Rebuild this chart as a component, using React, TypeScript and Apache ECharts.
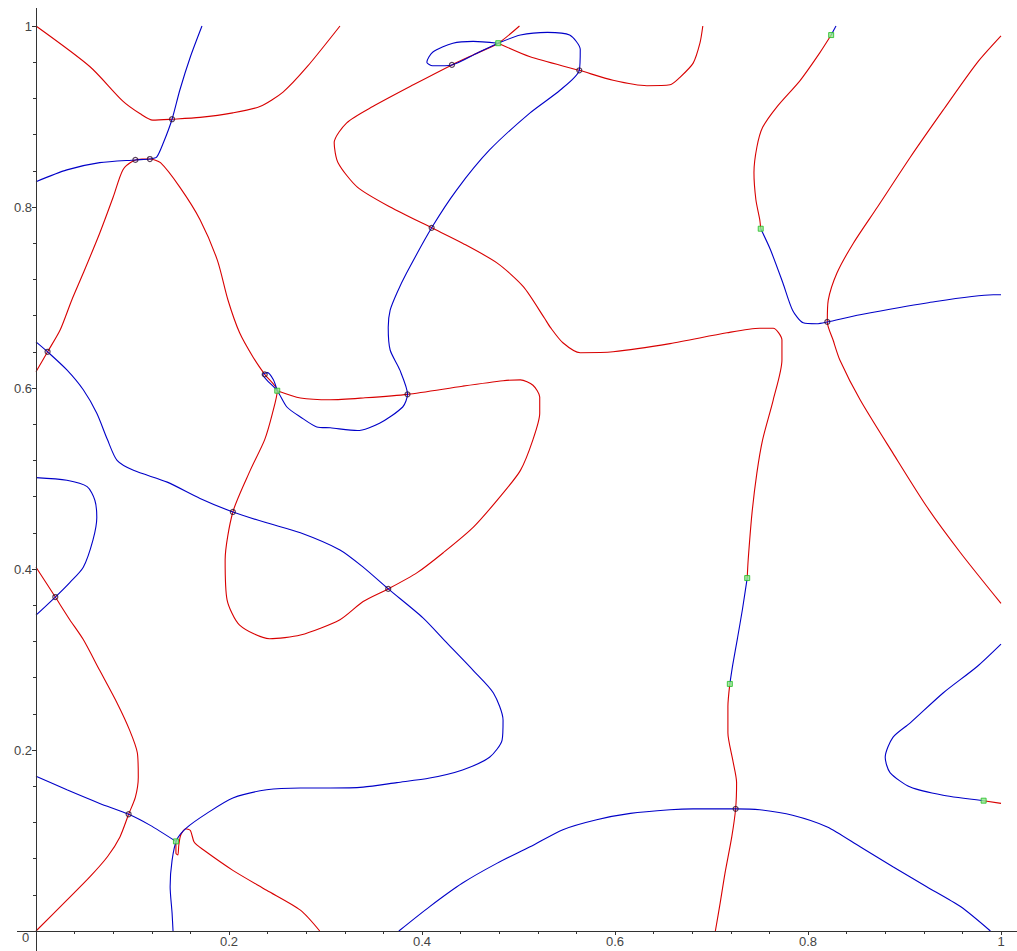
import React, { useEffect, useRef } from "react";
import * as echarts from "echarts";

// ---------- data (x, y in axis units) ----------
const xTicks = [0.2, 0.4, 0.6, 0.8, 1];
const yTicks = [0.2, 0.4, 0.6, 0.8, 1];

const red1 = [[0, 1.0], [0.056, 0.955], [0.09, 0.917], [0.108, 0.903], [0.121, 0.896], [0.141, 0.897], [0.17, 0.899], [0.204, 0.904], [0.232, 0.911], [0.256, 0.927], [0.281, 0.955], [0.315, 1.0]];

const red2 = [[0, 0.618], [0.012, 0.64], [0.025, 0.664], [0.037, 0.697], [0.049, 0.727], [0.066, 0.771], [0.08, 0.811], [0.09, 0.841], [0.101, 0.851], [0.11, 0.853], [0.118, 0.853], [0.129, 0.849], [0.149, 0.822], [0.17, 0.786], [0.188, 0.741], [0.199, 0.697], [0.211, 0.661], [0.225, 0.634], [0.237, 0.615], [0.25, 0.597], [0.245, 0.572], [0.237, 0.543], [0.222, 0.509], [0.204, 0.463], [0.196, 0.41], [0.198, 0.366], [0.211, 0.338], [0.242, 0.323], [0.274, 0.327], [0.315, 0.344], [0.339, 0.364], [0.365, 0.378], [0.395, 0.396], [0.422, 0.418], [0.453, 0.446], [0.481, 0.48], [0.502, 0.509], [0.515, 0.543], [0.522, 0.572], [0.522, 0.59], [0.515, 0.603], [0.502, 0.609], [0.484, 0.608], [0.442, 0.602], [0.385, 0.593], [0.339, 0.589], [0.305, 0.587], [0.274, 0.589], [0.25, 0.597]];

const red3 = [[0.501, 1.0], [0.479, 0.981], [0.455, 0.969], [0.431, 0.957], [0.391, 0.935], [0.349, 0.911], [0.322, 0.893], [0.309, 0.871], [0.313, 0.849], [0.333, 0.822], [0.367, 0.8], [0.41, 0.777], [0.442, 0.76], [0.478, 0.738], [0.505, 0.712], [0.527, 0.677], [0.533, 0.667], [0.546, 0.65], [0.564, 0.639], [0.598, 0.64], [0.657, 0.649], [0.716, 0.661], [0.75, 0.666], [0.764, 0.666], [0.773, 0.653], [0.773, 0.631], [0.764, 0.587], [0.753, 0.543], [0.747, 0.506], [0.742, 0.462], [0.738, 0.41], [0.737, 0.39]];

const red4 = [[0.479, 0.981], [0.512, 0.966], [0.563, 0.951], [0.598, 0.94], [0.633, 0.934], [0.657, 0.935], [0.667, 0.943], [0.681, 0.959], [0.688, 0.981], [0.691, 1.0]];

const red5 = [[0.719, 0.273], [0.717, 0.248], [0.717, 0.219], [0.722, 0.189], [0.726, 0.164], [0.725, 0.135], [0.721, 0.104], [0.714, 0.064], [0.709, 0.031], [0.704, 0]];

const red6 = [[0.824, 0.99], [0.812, 0.97], [0.792, 0.94], [0.768, 0.911], [0.753, 0.888], [0.747, 0.866], [0.744, 0.838], [0.746, 0.808], [0.75, 0.786], [0.751, 0.776]];

const red7 = [[1.0, 0.989], [0.975, 0.959], [0.94, 0.907], [0.906, 0.855], [0.872, 0.8], [0.847, 0.76], [0.83, 0.727], [0.821, 0.697], [0.82, 0.673], [0.826, 0.653], [0.833, 0.631], [0.854, 0.587], [0.888, 0.528], [0.923, 0.469], [0.958, 0.418], [1.0, 0.362]];

const red8 = [[0, 0.402], [0.02, 0.369], [0.035, 0.344], [0.049, 0.322], [0.066, 0.288], [0.084, 0.252], [0.097, 0.222], [0.105, 0.197], [0.106, 0.17], [0.103, 0.148], [0.096, 0.129], [0.087, 0.104], [0.074, 0.082], [0.056, 0.06], [0.032, 0.034], [0, 0]];

const red9 = [[0.145, 0.098], [0.145, 0.086], [0.147, 0.084], [0.148, 0.095], [0.15, 0.106], [0.155, 0.113], [0.16, 0.111], [0.164, 0.098], [0.173, 0.09], [0.204, 0.067], [0.239, 0.045], [0.274, 0.023], [0.294, 0]];

const red10 = [[0.982, 0.144], [1.0, 0.141]];

const blue1 = [[0, 0.828], [0.032, 0.841], [0.066, 0.849], [0.103, 0.852], [0.118, 0.853], [0.125, 0.855], [0.132, 0.871], [0.141, 0.897], [0.149, 0.929], [0.16, 0.966], [0.172, 1.0]];

const blue2 = [[0.479, 0.981], [0.453, 0.983], [0.432, 0.981], [0.411, 0.971], [0.405, 0.96], [0.411, 0.956], [0.431, 0.957], [0.457, 0.97], [0.479, 0.981], [0.502, 0.99], [0.53, 0.993], [0.553, 0.99], [0.564, 0.974], [0.563, 0.951], [0.543, 0.929], [0.512, 0.904], [0.47, 0.863], [0.436, 0.819], [0.41, 0.777], [0.384, 0.727], [0.374, 0.705], [0.367, 0.686], [0.365, 0.667], [0.367, 0.642], [0.377, 0.62], [0.385, 0.593], [0.38, 0.579], [0.356, 0.561], [0.333, 0.553], [0.305, 0.556], [0.291, 0.557], [0.274, 0.568], [0.26, 0.579], [0.25, 0.597], [0.239, 0.609], [0.235, 0.615], [0.24, 0.617], [0.246, 0.609], [0.25, 0.597]];

const blue3 = [[0, 0.651], [0.012, 0.64], [0.032, 0.62], [0.049, 0.598], [0.063, 0.572], [0.074, 0.543], [0.084, 0.52], [0.101, 0.509], [0.136, 0.496], [0.17, 0.478], [0.204, 0.463], [0.239, 0.451], [0.274, 0.44], [0.315, 0.421], [0.339, 0.402], [0.365, 0.378], [0.401, 0.346], [0.426, 0.318], [0.453, 0.288], [0.474, 0.263], [0.484, 0.233], [0.483, 0.211], [0.47, 0.192], [0.442, 0.178], [0.408, 0.169], [0.374, 0.164], [0.339, 0.159], [0.305, 0.158], [0.274, 0.158], [0.239, 0.156], [0.204, 0.147], [0.177, 0.13], [0.156, 0.114], [0.146, 0.101], [0.141, 0.078], [0.139, 0.049], [0.141, 0.02], [0.142, 0]];

const blue4 = [[0, 0.171], [0.032, 0.156], [0.066, 0.141], [0.096, 0.129], [0.118, 0.117], [0.145, 0.099]];

const blue5 = [[0, 0.501], [0.032, 0.498], [0.053, 0.491], [0.061, 0.476], [0.063, 0.457], [0.059, 0.432], [0.049, 0.402], [0.035, 0.385], [0.02, 0.369], [0, 0.349]];

const blue6 = [[0.376, 0], [0.408, 0.027], [0.442, 0.053], [0.478, 0.075], [0.512, 0.093], [0.546, 0.112], [0.581, 0.123], [0.616, 0.13], [0.657, 0.134], [0.681, 0.135], [0.725, 0.135], [0.75, 0.134], [0.784, 0.128], [0.82, 0.115], [0.854, 0.093], [0.888, 0.071], [0.923, 0.049], [0.958, 0.027], [0.989, 0]];

const blue7 = [[1.0, 0.317], [0.975, 0.292], [0.94, 0.263], [0.906, 0.23], [0.888, 0.214], [0.88, 0.192], [0.885, 0.175], [0.906, 0.159], [0.94, 0.15], [0.982, 0.144]];

const blue8 = [[0.737, 0.39], [0.732, 0.355], [0.727, 0.324], [0.722, 0.294], [0.719, 0.273]];

const blue9 = [[0.829, 1.0], [0.824, 0.99]];

const blue10 = [[0.751, 0.776], [0.761, 0.753], [0.774, 0.716], [0.784, 0.686], [0.795, 0.672], [0.809, 0.671], [0.82, 0.673], [0.854, 0.681], [0.923, 0.694], [0.992, 0.703], [1.0, 0.703]];

const crossings = [[0.141, 0.897], [0.103, 0.852], [0.118, 0.853], [0.012, 0.64], [0.237, 0.615], [0.204, 0.463], [0.02, 0.369], [0.365, 0.378], [0.385, 0.593], [0.41, 0.777], [0.431, 0.957], [0.563, 0.951], [0.82, 0.673], [0.725, 0.135], [0.096, 0.129]];

const switchPoints = [[0.479, 0.981], [0.25, 0.597], [0.824, 0.99], [0.751, 0.776], [0.737, 0.39], [0.719, 0.273], [0.982, 0.144], [0.145, 0.099]];

const redCurves = [red1, red2, red3, red4, red5, red6, red7, red8, red9, red10];
const blueCurves = [blue1, blue2, blue3, blue4, blue5, blue6, blue7, blue8, blue9, blue10];

const RED = "#d80000";
const BLUE = "#0000c8";
const AXIS = "#333333";
const FONT = "Liberation Sans, Arial, sans-serif";

export default function App() {
  const ref = useRef<HTMLDivElement>(null);
  useEffect(() => {
    document.body.style.margin = "0";
    if (!ref.current) return;
    const chart = echarts.init(ref.current, undefined, { renderer: "svg" });

    const lineSeries = (data: number[][], color: string) => ({
      type: "line",
      data,
      showSymbol: false,
      smooth: 0.25,
      lineStyle: { color, width: 1.1 },
      silent: true,
      clip: false,
    });

    const tickFmt = (list: number[]) => (v: number) => {
      const hit = list.find((t) => Math.abs(t - v) < 1e-6);
      return hit === undefined ? "" : String(hit);
    };

    const option: any = {
      animation: false,
      backgroundColor: "#ffffff",
      grid: { left: 36, top: 26, right: 16, bottom: 20 },
      xAxis: {
        type: "value",
        min: 0,
        max: 1,
        interval: 0.2,
        axisLine: { show: false },
        axisTick: { show: true, length: 4, lineStyle: { color: AXIS } },
        minorTick: { show: true, splitNumber: 5, length: 3, lineStyle: { color: AXIS } },
        splitLine: { show: false },
        minorSplitLine: { show: false },
        axisLabel: {
          showMinLabel: false,
          formatter: tickFmt(xTicks),
          color: "#444",
          fontSize: 13,
          fontFamily: FONT,
          margin: 4,
        },
      },
      yAxis: {
        type: "value",
        min: 0,
        max: 1,
        interval: 0.2,
        axisLine: { show: false },
        axisTick: { show: true, length: 4, lineStyle: { color: AXIS } },
        minorTick: { show: true, splitNumber: 5, length: 3, lineStyle: { color: AXIS } },
        splitLine: { show: false },
        minorSplitLine: { show: false },
        axisLabel: {
          showMinLabel: false,
          formatter: tickFmt(yTicks),
          color: "#444",
          fontSize: 13,
          fontFamily: FONT,
          margin: 4,
        },
      },
      graphic: [
        { type: "line", shape: { x1: 17, y1: 931.5, x2: 1017, y2: 931.5 }, style: { stroke: AXIS, lineWidth: 1 }, z: 10 },
        { type: "line", shape: { x1: 36.5, y1: 8, x2: 36.5, y2: 951 }, style: { stroke: AXIS, lineWidth: 1 }, z: 10 },
        { type: "text", x: 22, y: 931, style: { text: "0", fill: "#444", font: `13px ${FONT}`, verticalAlign: "top" }, z: 10 },
      ],
      series: [
        ...redCurves.map((d) => lineSeries(d, RED)),
        ...blueCurves.map((d) => lineSeries(d, BLUE)),
        {
          type: "scatter",
          data: crossings,
          symbol: "circle",
          symbolSize: 5,
          itemStyle: { color: "rgba(255,255,255,0)", borderColor: "#301030", borderWidth: 1.2 },
          silent: true,
          z: 5,
        },
        {
          type: "scatter",
          data: switchPoints,
          symbol: "rect",
          symbolSize: 5,
          itemStyle: { color: "#8ee88e", borderColor: "#22bb22", borderWidth: 1 },
          silent: true,
          z: 6,
        },
      ],
    };
    chart.setOption(option);
    return () => chart.dispose();
  }, []);
  return <div ref={ref} style={{ width: 1017, height: 951 }} />;
}
